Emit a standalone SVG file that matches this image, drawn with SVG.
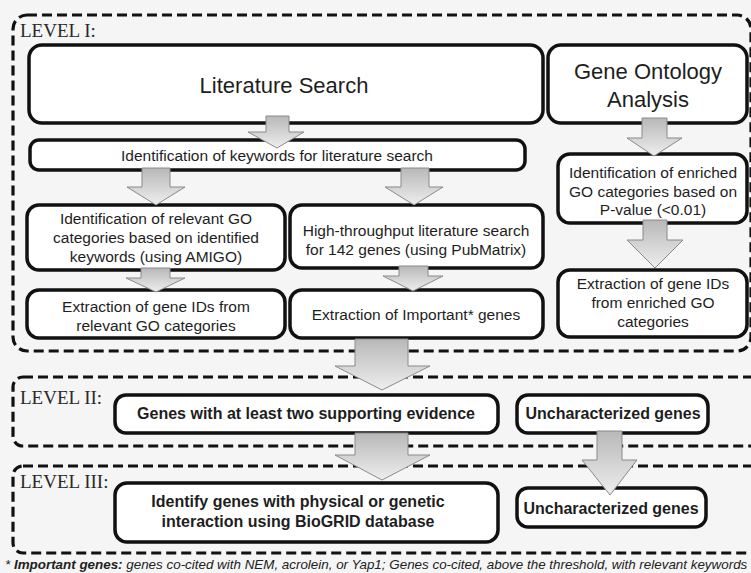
<svg xmlns="http://www.w3.org/2000/svg" width="751" height="573" viewBox="0 0 751 573">
<style>
.lvl{fill:none;stroke:#111;stroke-width:3.2;stroke-dasharray:10 5}
.box{fill:#fff;stroke:#111;stroke-width:3.5}
.t{font-family:"Liberation Sans",Arial,sans-serif;fill:#1e1e1e;text-anchor:middle}
.s{font-size:15.5px}
.b{font-size:16px;font-weight:bold}
.big{font-size:22px}
.lab{font-family:"Liberation Serif","Times New Roman",serif;font-size:19px;fill:#2a2a2a}
.arr{fill:url(#ag);stroke:#8a8a8a;stroke-width:1}
</style>
<defs>
<linearGradient id="ag" x1="0" y1="0" x2="0" y2="1">
<stop offset="0" stop-color="#b8b8b8"/>
<stop offset="1" stop-color="#eeeeee"/>
</linearGradient>
</defs>
<rect x="0" y="0" width="751" height="573" fill="#f5f5f5"/>
<g id="level1"><rect class="lvl" x="13" y="15" width="738" height="336" rx="14"/><text class="lab" x="20" y="37">LEVEL I:</text></g>
<g id="level2"><rect class="lvl" x="13" y="377" width="760" height="69" rx="10"/><text class="lab" x="20" y="404">LEVEL II:</text></g>
<g id="level3"><rect class="lvl" x="13" y="466" width="760" height="87" rx="10"/><text class="lab" x="20" y="488">LEVEL III:</text></g>

<g id="litsearch"><rect class="box" x="29" y="45" width="514" height="78" rx="13"/><text class="t big" x="284" y="93">Literature Search</text></g>
<g id="goanalysis"><rect class="box" x="548" y="45" width="199" height="78" rx="13"/><text class="t big" x="648" y="79">Gene Ontology</text><text class="t big" x="648" y="107">Analysis</text></g>
<g id="keywords"><rect class="box" x="30" y="140" width="495" height="30" rx="9"/><text class="t s" x="277" y="161">Identification of keywords for literature search</text></g>
<g id="relevantgo"><rect class="box" x="27" y="205" width="258" height="65" rx="12"/><text class="t s" x="156" y="224">Identification of relevant GO</text><text class="t s" x="156" y="243">categories based on identified</text><text class="t s" x="156" y="262">keywords (using AMIGO)</text></g>
<g id="highthroughput"><rect class="box" x="290" y="205" width="253" height="63" rx="12"/><text class="t s" x="416" y="236">High-throughput literature search</text><text class="t s" x="416" y="255">for 142 genes (using PubMatrix)</text></g>
<g id="enriched"><rect class="box" x="558" y="154" width="189" height="69" rx="12"/><text class="t s" x="653" y="178">Identification of enriched</text><text class="t s" x="653" y="197">GO categories based on</text><text class="t s" x="653" y="215">P-value (&lt;0.01)</text></g>
<g id="extrelevant"><rect class="box" x="27" y="290" width="258" height="48" rx="12"/><text class="t s" x="156" y="312">Extraction of gene IDs from</text><text class="t s" x="156" y="331">relevant GO categories</text></g>
<g id="extimportant"><rect class="box" x="290" y="290" width="253" height="48" rx="12"/><text class="t s" x="416" y="320">Extraction of Important* genes</text></g>
<g id="extenriched"><rect class="box" x="558" y="270" width="189" height="67" rx="12"/><text class="t s" x="653" y="289">Extraction of gene IDs</text><text class="t s" x="653" y="308">from enriched GO</text><text class="t s" x="653" y="327">categories</text></g>
<g id="genes2"><rect class="box" x="115" y="395" width="383" height="38" rx="11"/><text class="t b" x="306" y="419">Genes with at least two supporting evidence</text></g>
<g id="unchar2"><rect class="box" x="517" y="395" width="191" height="38" rx="11"/><text class="t b" x="613" y="419">Uncharacterized genes</text></g>
<g id="identify"><rect class="box" x="115" y="483" width="383" height="59" rx="12"/><text class="t b" x="298" y="507">Identify genes with physical or genetic</text><text class="t b" x="298" y="527">interaction using BioGRID database</text></g>
<g id="unchar3"><rect class="box" x="517" y="488" width="189" height="39" rx="11"/><text class="t b" x="611" y="514">Uncharacterized genes</text></g>

<g id="connectors">
<polygon class="arr" points="266,116 289,116 289,132 304,132 277,148 248,132 266,132"/>
<polygon class="arr" points="142,168 170,168 170,187 185,187 156,205 127,187 142,187"/>
<polygon class="arr" points="401,168 429,168 429,187 443,187 414,205 385,187 401,187"/>
<polygon class="arr" points="141,268 170,268 170,278 185,278 156,292 126,278 141,278"/>
<polygon class="arr" points="399,266 428,266 428,276 443,276 413,291 383,276 399,276"/>
<polygon class="arr" points="642,118 667,118 667,138 682,138 654,156 627,138 642,138"/>
<polygon class="arr" points="643,220 667,220 667,240 683,240 655,268 627,240 643,240"/>
<polygon class="arr" points="355,339 408,339 408,366 430,366 382,390 335,366 355,366"/>
<polygon class="arr" points="355,433 408,433 408,455 430,455 382,480 335,455 355,455"/>
<polygon class="arr" points="597,431 622,431 622,460 637,460 610,495 582,460 597,460"/>
</g>

<text font-family="'Liberation Sans',Arial,sans-serif" font-size="13.4" font-style="italic" fill="#222" x="5" y="569">* <tspan font-weight="bold">Important genes:</tspan> genes co-cited with NEM, acrolein, or Yap1; Genes co-cited, above the threshold, with relevant keywords</text>
</svg>
